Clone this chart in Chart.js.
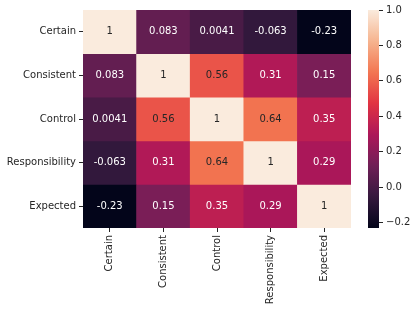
<!DOCTYPE html>
<html>
<head>
<meta charset="utf-8">
<script src="https://cdn.jsdelivr.net/npm/chart.js@4/dist/chart.umd.min.js"></script>
<style>
  body { margin: 0; background: #fff; }
  #wrap { position: relative; width: 417px; height: 311px; }
  #heat { position: absolute; left: 0; top: 0; }
  #cbar { position: absolute; left: 368px; top: 0; }
</style>
</head>
<body>
<div id="wrap">
  <canvas id="heat" width="417" height="311"></canvas>
  <canvas id="cbar" width="49" height="311"></canvas>
</div>
<script>
// variables (rows and columns are the same)
const names = ['Certain', 'Consistent', 'Control', 'Responsibility', 'Expected'];

// correlation matrix, one array per row
const rowCertain        = [1, 0.083, 0.0041, -0.063, -0.23];
const rowConsistent     = [0.083, 1, 0.56, 0.31, 0.15];
const rowControl        = [0.0041, 0.56, 1, 0.64, 0.35];
const rowResponsibility = [-0.063, 0.31, 0.64, 1, 0.29];
const rowExpected       = [-0.23, 0.15, 0.35, 0.29, 1];
const matrix = [rowCertain, rowConsistent, rowControl, rowResponsibility, rowExpected];

// colour bar ticks
const cbTicks = [-0.2, 0, 0.2, 0.4, 0.6, 0.8, 1.0];

const vmin = Math.min(...matrix.flat());
const vmax = Math.max(...matrix.flat());

const textColor = '#262626';
const font = { family: 'DejaVu Sans', size: 10 };

// seaborn "rocket" colormap, approximated by stops
const rocket = [
  [0.000, [3, 5, 26]],
  [0.143, [53, 25, 62]],
  [0.286, [112, 31, 87]],
  [0.429, [173, 23, 89]],
  [0.571, [225, 51, 66]],
  [0.714, [243, 118, 81]],
  [0.857, [246, 180, 143]],
  [1.000, [250, 235, 221]]
];
function rocketRGB(t) {
  t = Math.max(0, Math.min(1, t));
  for (let i = 1; i < rocket.length; i++) {
    if (t <= rocket[i][0]) {
      const [t0, c0] = rocket[i - 1];
      const [t1, c1] = rocket[i];
      const f = (t - t0) / (t1 - t0);
      return c0.map((c, k) => Math.round(c + (c1[k] - c) * f));
    }
  }
  return rocket[rocket.length - 1][1];
}
function rocketColor(t) {
  const c = rocketRGB(t);
  return 'rgb(' + c.join(',') + ')';
}
function norm(v) { return (v - vmin) / (vmax - vmin); }

// like python's '.2g'
function fmt(v) { return parseFloat(v.toPrecision(2)).toString(); }

// one floating-bar dataset per row
const datasets = matrix.map((row, r) => ({
  data: row.map(() => [r - 0.5, r + 0.5]),
  values: row,
  backgroundColor: row.map(v => rocketColor(norm(v))),
  borderWidth: 0,
  barPercentage: 1,
  categoryPercentage: 1,
  grouped: false
}));

// write the value into each cell
const annotate = {
  id: 'annotate',
  afterDatasetsDraw(chart) {
    const ctx = chart.ctx;
    ctx.save();
    ctx.font = font.size + 'px ' + font.family;
    ctx.textAlign = 'center';
    ctx.textBaseline = 'middle';
    chart.data.datasets.forEach((ds, r) => {
      chart.getDatasetMeta(r).data.forEach((bar, j) => {
        const v = ds.values[j];
        const c = rocketRGB(norm(v));
        const lum = (0.2126 * c[0] + 0.7152 * c[1] + 0.0722 * c[2]) / 255;
        ctx.fillStyle = lum > 0.408 ? textColor : '#ffffff';
        const p = bar.getCenterPoint();
        ctx.fillText(fmt(v), p.x, p.y);
      });
    });
    ctx.restore();
  }
};

new Chart(document.getElementById('heat'), {
  type: 'bar',
  data: { labels: names, datasets: datasets },
  options: {
    responsive: false,
    animation: false,
    layout: { padding: { top: 10, right: 66, left: 0, bottom: 0 } },
    plugins: { legend: { display: false }, tooltip: { enabled: false } },
    scales: {
      x: {
        afterFit(scale) { scale.height = 83; },
        border: { display: false },
        grid: { offset: false, drawOnChartArea: false, drawTicks: true, tickLength: 4, color: textColor },
        ticks: { autoSkip: false, maxRotation: 90, minRotation: 90, padding: 3, color: textColor, font: font }
      },
      y: {
        type: 'linear',
        reverse: true,
        min: -0.5,
        max: names.length - 0.5,
        afterFit(scale) { scale.width = 83; },
        afterBuildTicks(scale) { scale.ticks = names.map((n, i) => ({ value: i })); },
        border: { display: false },
        grid: { drawOnChartArea: false, drawTicks: true, tickLength: 4, color: textColor },
        ticks: { padding: 3, color: textColor, font: font, callback: v => names[v] }
      }
    }
  },
  plugins: [annotate]
});

// colour bar
new Chart(document.getElementById('cbar'), {
  type: 'bar',
  data: {
    labels: [''],
    datasets: [{
      data: [[vmin, vmax]],
      borderWidth: 0,
      barPercentage: 1,
      categoryPercentage: 1,
      backgroundColor(ctx) {
        const area = ctx.chart.chartArea;
        if (!area) return null;
        const g = ctx.chart.ctx.createLinearGradient(0, area.bottom, 0, area.top);
        for (let i = 0; i <= 40; i++) g.addColorStop(i / 40, rocketColor(i / 40));
        return g;
      }
    }]
  },
  options: {
    responsive: false,
    animation: false,
    layout: { padding: { top: 10, bottom: 83, left: 0, right: 0 } },
    plugins: { legend: { display: false }, tooltip: { enabled: false } },
    scales: {
      x: { display: false },
      y: {
        position: 'right',
        min: vmin,
        max: vmax,
        afterFit(scale) { scale.width = 38; },
        afterBuildTicks(scale) { scale.ticks = cbTicks.map(v => ({ value: v })); },
        border: { display: false },
        grid: { drawOnChartArea: false, drawTicks: true, tickLength: 4, color: textColor },
        ticks: { padding: 3, color: textColor, font: font, callback: v => v.toFixed(1).replace('-', '\u2212') }
      }
    }
  }
});
</script>
</body>
</html>
